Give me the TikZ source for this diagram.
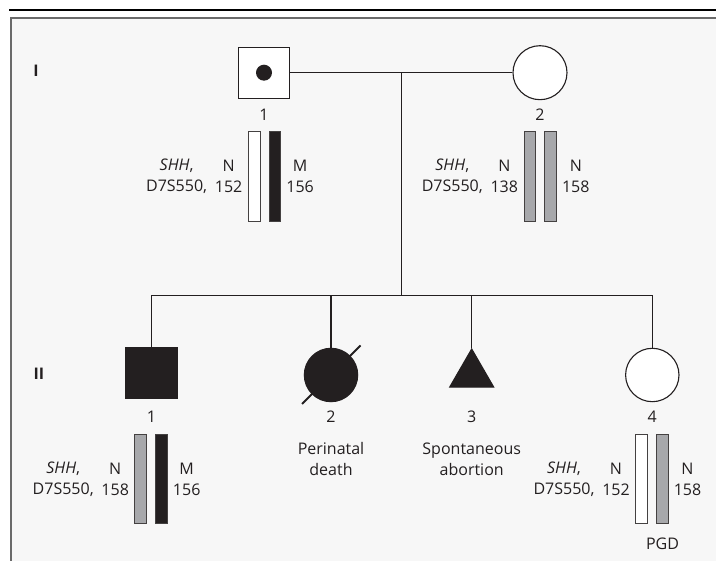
\documentclass[tikz,border=0pt]{standalone}
\usepackage{fontspec}
\setmainfont{Open Sans}
\usetikzlibrary{shapes.geometric}

\definecolor{ink}{HTML}{231F20}
\definecolor{panel}{HTML}{F7F7F7}
\definecolor{frame}{HTML}{6A6A6A}
\definecolor{allele}{HTML}{A7A8AB}

\tikzset{
  txt/.style={text=ink, font=\fontsize{16}{21}\selectfont, inner sep=0pt, align=center},
  gen/.style={txt, font=\fontsize{16}{21}\selectfont\bfseries},
  line/.style={draw=ink, line width=1.1pt},
  male/.style={line, rectangle, minimum size=51pt, inner sep=0pt, fill=white},
  female/.style={line, circle, minimum size=54pt, inner sep=0pt, fill=white},
  loss/.style={line, regular polygon, regular polygon sides=3, minimum size=50.8pt, inner sep=0pt, fill=ink},
  bar/.style={draw=ink!85, line width=1pt, minimum width=11.7pt, minimum height=89.5pt, inner sep=0pt},
}

\begin{document}
\begin{tikzpicture}[x=1pt, y=-1pt]

    \clip (0,0) rectangle (716,561);
    \fill[white] (0,0) rectangle (716,561);
    \draw[black, line width=1.3pt] (9,10) -- (716,10);
    \draw[frame, line width=2pt, fill=panel] (11,17.7) rectangle (730,580);

    % generation I
    \node[gen] (genI) at (36,71) {I};
    \node[male] (I1) at (264,72.7) {};
    \fill[ink] (I1.center) circle[radius=8pt];
    \node[female] (I2) at (540,72.7) {};
    \coordinate (mate) at (401.7,72.7);
    \coordinate (sib) at (401.7,295.7);
    \draw[line] (I1) -- (I2);
    \draw[line] (mate) -- (sib);

    % generation II
    \node[gen] (genII) at (39,374) {II};
    \node[male, fill=ink] (II1) at (151.5,373) {};
    \node[female, minimum size=53.4pt, fill=ink] (II2) at (331,375) {};
    \node[loss] (II3) at (471.7,374.4) {};
    \node[female, minimum size=53.4pt] (II4) at (652.3,375) {};
    \draw[ink, line width=2pt] ([shift={(-29,29)}]II2.center) -- ([shift={(29.5,-29.5)}]II2.center);

    \draw[line] (II1.north) -- (II1.north |- sib) -- (II4.north |- sib) -- (II4.north);
    \draw[line] (II2.north |- sib) -- (II2.north);
    \draw[line] (II3.north |- sib) -- (II3.north);

    % numbers
    \node[txt] (lI1) at (264,115) {1};
    \node[txt] (lI2) at (540,115) {2};
    \foreach \p/\n in {II1/1, II2/2, II3/3, II4/4}
        \node[txt] (l\p) at (\p |- 0,416.7) {\n};

    \node[txt] (perinatal) at (331,459) {Perinatal\\death};
    \node[txt] (abortion) at (471.7,459) {Spontaneous\\abortion};

    % haplotypes
    \foreach \c/\m/\fl/\fr/\nl/\nr [count=\i] in
        {264.6/176.4/white/ink/{N\\152}/{M\\156},
         540.3/176.4/allele/allele/{N\\138}/{N\\158},
         151.2/479.2/allele/ink/{N\\158}/{M\\156},
         652/479.2/white/allele/{N\\152}/{N\\158}}
    {
        \node[bar, fill=\fl] (hapa\i) at (\c-10.4,\m) {};
        \node[bar, fill=\fr] (hapb\i) at (\c+10.4,\m) {};
        \node[txt] (loc\i) at (\c-88,\m) {\textit{SHH},\\D7S550,};
        \node[txt] (ala\i) at (\c-36,\m) {\nl};
        \node[txt] (alb\i) at (\c+35.5,\m) {\nr};
    }

    \node[txt] (pgd) at (662.5,543.3) {PGD};

\end{tikzpicture}
\end{document}
